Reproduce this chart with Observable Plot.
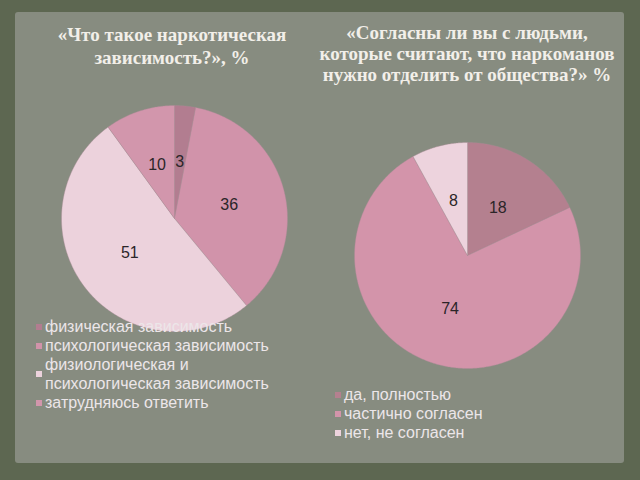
<!DOCTYPE html>
<html>
<head>
<meta charset="utf-8">
<script src="https://cdn.jsdelivr.net/npm/d3@7"></script>
<script src="https://cdn.jsdelivr.net/npm/@observablehq/plot@0.6"></script>
<style>
  html, body { margin: 0; padding: 0; }
  body { width: 640px; height: 480px; background: #5d6751; position: relative; overflow: hidden; }
  #panel { position: absolute; left: 15px; top: 12px; width: 609px; height: 451px; background: #878c80; border-radius: 3px; }
  .title { position: absolute; font-family: "Liberation Serif", serif; font-weight: bold; color: #f2efe9; text-align: center; font-size: 19px; }
  .pie { position: absolute; }
  .legend { position: absolute; font-family: "Liberation Sans", Arial, sans-serif; font-size: 16px; color: #ece6e9; }
  .item { display: flex; align-items: center; }
  .sw { width: 6px; height: 6px; margin-right: 3px; flex: none; }
</style>
</head>
<body>
<div id="panel"></div>
<div class="title" id="t1" style="left:17px; top:23px; width:310px; line-height:23px;"></div>
<div class="title" id="t2" style="left:297px; top:22px; width:340px; line-height:21px;"></div>
<div class="pie" id="p1" style="left:54px; top:98px;"></div>
<div class="pie" id="p2" style="left:347px; top:135px;"></div>
<div class="legend" id="l1" style="left:36px; top:317px; width:250px; line-height:19px;"></div>
<div class="legend" id="l2" style="left:335px; top:385px; width:240px; line-height:19px;"></div>
<script>
const leftTitle = "«Что такое наркотическая<br>зависимость?», %";
const rightTitle = "«Согласны ли вы с людьми,<br>которые считают, что наркоманов<br>нужно отделить от общества?» %";
const leftCategories = ["физическая зависимость", "психологическая зависимость", "физиологическая и психологическая зависимость", "затрудняюсь ответить"];
const leftValues = [3, 36, 51, 10];
const leftColors = ["#b27d90", "#d193aa", "#ecd2dc", "#d296ac"];
const rightCategories = ["да, полностью", "частично согласен", "нет, не согласен"];
const rightValues = [18, 74, 8];
const rightColors = ["#b4808f", "#d394aa", "#edd3dd"];

document.getElementById("t1").innerHTML = leftTitle;
document.getElementById("t2").innerHTML = rightTitle;

function pieChart(categories, values, colors) {
  const size = 240, R = 113, half = size / 2 / R;
  const arcs = d3.pie().sort(null).value(d => d)(values);
  const pts = [];
  const labels = [];
  arcs.forEach((a, i) => {
    const cat = categories[i];
    pts.push({k: cat, x: 0, y: 0});
    const n = Math.max(2, Math.ceil((a.endAngle - a.startAngle) / 0.01));
    for (let j = 0; j <= n; j++) {
      const t = a.startAngle + (a.endAngle - a.startAngle) * j / n;
      pts.push({k: cat, x: Math.sin(t), y: Math.cos(t)});
    }
    pts.push({k: cat, x: 0, y: 0});
    const m = (a.startAngle + a.endAngle) / 2;
    labels.push({k: cat, v: values[i], x: 0.5 * Math.sin(m), y: 0.5 * Math.cos(m)});
  });
  return Plot.plot({
    width: size, height: size, margin: 0,
    x: {domain: [-half, half], axis: null},
    y: {domain: [-half, half], axis: null},
    color: {domain: categories, range: colors},
    style: {background: "transparent", overflow: "visible"},
    marks: [
      Plot.line(pts, {x: "x", y: "y", z: "k", fill: "k", stroke: "#a88a95", strokeWidth: 0.4, curve: "linear"}),
      Plot.text(labels, {x: "x", y: "y", text: d => String(d.v), fill: "#2b2528", fontSize: 16, fontFamily: "Liberation Sans, Arial, sans-serif"})
    ]
  });
}

document.getElementById("p1").appendChild(pieChart(leftCategories, leftValues, leftColors));
document.getElementById("p2").appendChild(pieChart(rightCategories, rightValues, rightColors));

function legend(el, categories, colors) {
  categories.forEach((c, i) => {
    const d = document.createElement("div");
    d.className = "item";
    d.innerHTML = `<span class="sw" style="background:${colors[i]}"></span><span>${c}</span>`;
    el.appendChild(d);
  });
}
legend(document.getElementById("l1"), leftCategories, leftColors);
legend(document.getElementById("l2"), rightCategories, rightColors);
</script>
</body>
</html>
